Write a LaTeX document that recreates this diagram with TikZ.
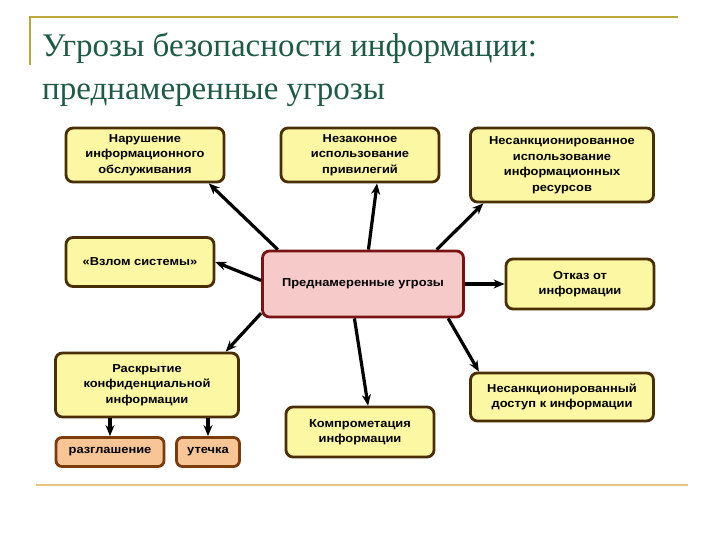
\documentclass[tikz,border=0pt]{standalone}
\usepackage{fontspec}
\setmainfont{Liberation Serif}
\newfontfamily\boxfont[FakeStretch=1.12]{Liberation Sans}
\usetikzlibrary{arrows.meta, positioning, calc}
\definecolor{titlegreen}{HTML}{1E5A46}
\definecolor{frameolive}{HTML}{BBA83A}
\definecolor{ruletan}{HTML}{E6C47E}
\definecolor{boxyellow}{HTML}{FBF7A2}
\definecolor{boxbrown}{HTML}{4A2E04}
\definecolor{corepink}{HTML}{F7CACA}
\definecolor{corered}{HTML}{7A1414}
\definecolor{leaforange}{HTML}{F8C596}
\definecolor{leafbrown}{HTML}{7A3C0E}
\newcommand{\threatbox}[5]{%
  \node[draw=boxbrown, line width=2.8pt, rounded corners=7pt, fill=boxyellow,
        minimum width=#3, minimum height=#4, align=center, inner sep=0pt] (#1) at (#2) {#5};}

\begin{document}
\begin{tikzpicture}[x=1pt, y=-1pt, font=\boxfont\bfseries\fontsize{11.5}{15.5}\selectfont,
    arr/.style={-{Stealth[length=11pt, width=9pt]}, line width=3.2pt, black}]
  \useasboundingbox (0,0) rectangle (720,540);
  % title frame
  \draw[frameolive, line width=2pt] (30,65) -- (30,17) -- (678,17);
  \draw[ruletan, line width=2.5pt] (36,485) -- (688,485);
  \node[anchor=base west, inner sep=0pt, text=titlegreen, font=\fontsize{33}{40}\selectfont]
    (title1) at (42,57) {Угрозы безопасности информации:};
  \node[anchor=base west, inner sep=0pt, text=titlegreen, font=\fontsize{33}{40}\selectfont]
    (title2) at (42,100) {преднамеренные угрозы};
  % boxes
  \threatbox{service}{145,155}{158pt}{54pt}{Нарушение\\информационного\\обслуживания}
  \threatbox{privilege}{360,155}{158pt}{54pt}{Незаконное\\использование\\привилегий}
  \threatbox{resources}{562,165}{183pt}{74pt}{Несанкционированное\\использование\\информационных\\ресурсов}
  \threatbox{hacking}{140,262}{148pt}{49pt}{«Взлом системы»}
  \node[draw=corered, line width=2.8pt, rounded corners=7pt, fill=corepink,
        minimum width=201pt, minimum height=66pt, inner sep=0pt] (core) at (363,284)
    {Преднамеренные угрозы};
  \threatbox{refusal}{580,284}{148pt}{50pt}{Отказ от\\информации}
  \threatbox{disclosure}{147,385}{183pt}{64pt}{Раскрытие\\конфиденциальной\\информации}
  \threatbox{compromise}{360,432}{148pt}{50pt}{Компрометация\\информации}
  \threatbox{access}{562,397}{183pt}{48pt}{Несанкционированный\\доступ к информации}
  \node[draw=leafbrown, line width=2.8pt, rounded corners=6pt, fill=leaforange,
        minimum width=108pt, minimum height=29pt, inner sep=0pt] (divulge) at (110,452) {разглашение};
  \node[draw=leafbrown, line width=2.8pt, rounded corners=6pt, fill=leaforange,
        minimum width=63pt, minimum height=29pt, inner sep=0pt] (leak) at (208,452) {утечка};
  % arrows
  \draw[arr] (core.158) -- (service.-24);
  \draw[arr] (core.81) -- (privilege.-59);
  \draw[arr] (core.25) -- (resources.206);
  \draw[arr] (core.178) -- (hacking.east);
  \draw[arr] (core.east) -- (refusal.west);
  \draw[arr] (core.196) -- (disclosure.23);
  \draw[arr] (core.-104) -- (compromise.73);
  \draw[arr] (core.-22) -- (access.163);
  \draw[arr] (divulge.north |- disclosure.south) -- (divulge.north);
  \draw[arr] (leak.north |- disclosure.south) -- (leak.north);
\end{tikzpicture}
\end{document}
